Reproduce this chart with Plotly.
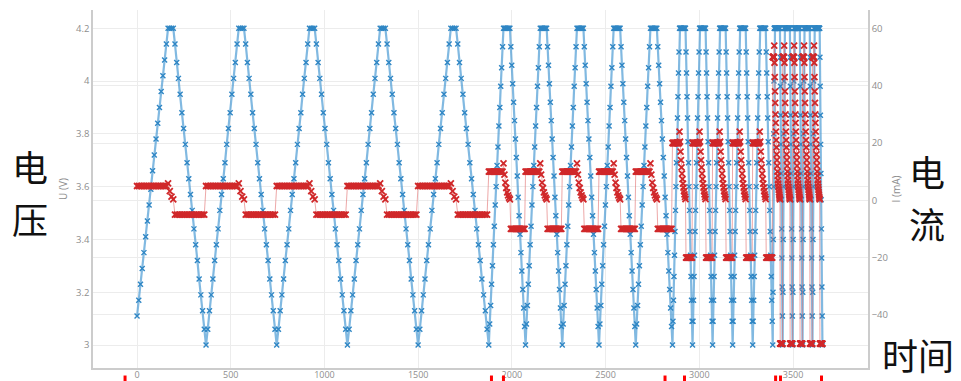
import numpy as np
import plotly.graph_objects as go

# Sampling interval (time units) of each constant-current step: 5, 10, 20, 50 mA
dt_stage = [9.2, 4.9, 2.675, 1.325]

# Cell voltage U (V), five charge/CV/discharge cycles per step
u_5mA = [
    3.11,3.17,3.23,3.29,3.35,3.41,3.47,3.53,3.59,3.66,3.72,3.78,3.84,3.90,3.96,4.02,4.08,4.14,4.20,4.20,4.20,4.20,4.14,4.07,4.01,3.95,3.88,3.82,3.76,3.69,3.63,3.57,3.51,3.44,3.38,3.32,3.25,3.19,3.13,3.06,
    3.00,3.06,3.13,3.19,3.25,3.32,3.38,3.44,3.51,3.57,3.63,3.69,3.76,3.82,3.88,3.95,4.01,4.07,4.14,4.20,4.20,4.20,4.20,4.14,4.07,4.01,3.95,3.88,3.82,3.76,3.69,3.63,3.57,3.51,3.44,3.38,3.32,3.25,3.19,3.13,3.06,
    3.00,3.06,3.13,3.19,3.25,3.32,3.38,3.44,3.51,3.57,3.63,3.69,3.76,3.82,3.88,3.95,4.01,4.07,4.14,4.20,4.20,4.20,4.20,4.14,4.07,4.01,3.95,3.88,3.82,3.76,3.69,3.63,3.57,3.51,3.44,3.38,3.32,3.25,3.19,3.13,3.06,
    3.00,3.06,3.13,3.19,3.25,3.32,3.38,3.44,3.51,3.57,3.63,3.69,3.76,3.82,3.88,3.95,4.01,4.07,4.14,4.20,4.20,4.20,4.20,4.14,4.07,4.01,3.95,3.88,3.82,3.76,3.69,3.63,3.57,3.51,3.44,3.38,3.32,3.25,3.19,3.13,3.06,
    3.00,3.06,3.13,3.19,3.25,3.32,3.38,3.44,3.51,3.57,3.63,3.69,3.76,3.82,3.88,3.95,4.01,4.07,4.14,4.20,4.20,4.20,4.20,4.14,4.07,4.01,3.95,3.88,3.82,3.76,3.69,3.63,3.57,3.51,3.44,3.38,3.32,3.25,3.19,3.13,3.06,
]
u_10mA = [
    3.00,3.08,3.15,3.23,3.30,3.38,3.45,3.53,3.60,3.68,3.75,3.83,3.90,3.98,4.05,4.13,4.20,4.20,4.20,4.20,4.20,4.20,4.20,4.20,4.13,4.06,3.99,3.92,3.85,3.78,3.71,3.64,3.56,3.49,3.42,3.35,3.28,3.21,3.14,3.07,
    3.00,3.08,3.15,3.23,3.30,3.38,3.45,3.53,3.60,3.68,3.75,3.83,3.90,3.98,4.05,4.13,4.20,4.20,4.20,4.20,4.20,4.20,4.20,4.20,4.13,4.06,3.99,3.92,3.85,3.78,3.71,3.64,3.56,3.49,3.42,3.35,3.28,3.21,3.14,3.07,
    3.00,3.08,3.15,3.23,3.30,3.38,3.45,3.53,3.60,3.68,3.75,3.83,3.90,3.98,4.05,4.13,4.20,4.20,4.20,4.20,4.20,4.20,4.20,4.20,4.13,4.06,3.99,3.92,3.85,3.78,3.71,3.64,3.56,3.49,3.42,3.35,3.28,3.21,3.14,3.07,
    3.00,3.08,3.15,3.23,3.30,3.38,3.45,3.53,3.60,3.68,3.75,3.83,3.90,3.98,4.05,4.13,4.20,4.20,4.20,4.20,4.20,4.20,4.20,4.20,4.13,4.06,3.99,3.92,3.85,3.78,3.71,3.64,3.56,3.49,3.42,3.35,3.28,3.21,3.14,3.07,
    3.00,3.08,3.15,3.23,3.30,3.38,3.45,3.53,3.60,3.68,3.75,3.83,3.90,3.98,4.05,4.13,4.20,4.20,4.20,4.20,4.20,4.20,4.20,4.20,4.13,4.06,3.99,3.92,3.85,3.78,3.71,3.64,3.56,3.49,3.42,3.35,3.28,3.21,3.14,3.07,
]
u_20mA = [
    3.00,3.09,3.17,3.26,3.34,3.43,3.51,3.60,3.69,3.77,3.86,3.94,4.03,4.11,4.20,4.20,4.20,4.20,4.20,4.20,4.20,4.20,4.20,4.20,4.20,4.20,4.20,4.11,4.03,3.94,3.86,3.77,3.69,3.60,3.51,3.43,3.34,3.26,3.17,3.09,
    3.00,3.09,3.17,3.26,3.34,3.43,3.51,3.60,3.69,3.77,3.86,3.94,4.03,4.11,4.20,4.20,4.20,4.20,4.20,4.20,4.20,4.20,4.20,4.20,4.20,4.20,4.20,4.11,4.03,3.94,3.86,3.77,3.69,3.60,3.51,3.43,3.34,3.26,3.17,3.09,
    3.00,3.09,3.17,3.26,3.34,3.43,3.51,3.60,3.69,3.77,3.86,3.94,4.03,4.11,4.20,4.20,4.20,4.20,4.20,4.20,4.20,4.20,4.20,4.20,4.20,4.20,4.20,4.11,4.03,3.94,3.86,3.77,3.69,3.60,3.51,3.43,3.34,3.26,3.17,3.09,
    3.00,3.09,3.17,3.26,3.34,3.43,3.51,3.60,3.69,3.77,3.86,3.94,4.03,4.11,4.20,4.20,4.20,4.20,4.20,4.20,4.20,4.20,4.20,4.20,4.20,4.20,4.20,4.11,4.03,3.94,3.86,3.77,3.69,3.60,3.51,3.43,3.34,3.26,3.17,3.09,
    3.00,3.09,3.17,3.26,3.34,3.43,3.51,3.60,3.69,3.77,3.86,3.94,4.03,4.11,4.20,4.20,4.20,4.20,4.20,4.20,4.20,4.20,4.20,4.20,4.20,4.20,4.20,4.11,4.03,3.94,3.86,3.77,3.69,3.60,3.51,3.43,3.34,3.26,3.17,3.09,
]
u_50mA = [
    3.00,3.20,3.40,3.60,3.80,4.00,4.20,4.20,4.20,4.20,4.20,4.20,4.20,4.20,4.20,4.20,4.20,4.20,4.20,4.20,4.20,4.20,4.20,4.20,4.20,4.20,4.20,4.20,4.20,4.20,4.09,3.98,3.87,3.76,3.65,3.55,3.44,3.33,3.22,3.11,
    3.00,3.20,3.40,3.60,3.80,4.00,4.20,4.20,4.20,4.20,4.20,4.20,4.20,4.20,4.20,4.20,4.20,4.20,4.20,4.20,4.20,4.20,4.20,4.20,4.20,4.20,4.20,4.20,4.20,4.20,4.09,3.98,3.87,3.76,3.65,3.55,3.44,3.33,3.22,3.11,
    3.00,3.20,3.40,3.60,3.80,4.00,4.20,4.20,4.20,4.20,4.20,4.20,4.20,4.20,4.20,4.20,4.20,4.20,4.20,4.20,4.20,4.20,4.20,4.20,4.20,4.20,4.20,4.20,4.20,4.20,4.09,3.98,3.87,3.76,3.65,3.55,3.44,3.33,3.22,3.11,
    3.00,3.20,3.40,3.60,3.80,4.00,4.20,4.20,4.20,4.20,4.20,4.20,4.20,4.20,4.20,4.20,4.20,4.20,4.20,4.20,4.20,4.20,4.20,4.20,4.20,4.20,4.20,4.20,4.20,4.20,4.09,3.98,3.87,3.76,3.65,3.55,3.44,3.33,3.22,3.11,
    3.00,3.20,3.40,3.60,3.80,4.00,4.20,4.20,4.20,4.20,4.20,4.20,4.20,4.20,4.20,4.20,4.20,4.20,4.20,4.20,4.20,4.20,4.20,4.20,4.20,4.20,4.20,4.20,4.20,4.20,4.09,3.98,3.87,3.76,3.65,3.55,3.44,3.33,3.22,3.11,
    3.00,
]

# Cell current I (mA) on the same samples
i_5mA = [
    5,5,5,5,5,5, 5,5,5,5,5,5, 5,5,5,5,5,5, 5.9,3.2,1.3,0.3, -5,-5,-5,-5,-5,-5, -5,-5,-5,-5,-5,-5, -5,-5,-5,-5,-5,-5,
    5,5,5,5,5,5, 5,5,5,5,5,5, 5,5,5,5,5,5, 5, 5.9,3.2,1.3,0.3, -5,-5,-5,-5,-5,-5, -5,-5,-5,-5,-5,-5, -5,-5,-5,-5,-5,-5,
    5,5,5,5,5,5, 5,5,5,5,5,5, 5,5,5,5,5,5, 5, 5.9,3.2,1.3,0.3, -5,-5,-5,-5,-5,-5, -5,-5,-5,-5,-5,-5, -5,-5,-5,-5,-5,-5,
    5,5,5,5,5,5, 5,5,5,5,5,5, 5,5,5,5,5,5, 5, 5.9,3.2,1.3,0.3, -5,-5,-5,-5,-5,-5, -5,-5,-5,-5,-5,-5, -5,-5,-5,-5,-5,-5,
    5,5,5,5,5,5, 5,5,5,5,5,5, 5,5,5,5,5,5, 5, 5.9,3.2,1.3,0.3, -5,-5,-5,-5,-5,-5, -5,-5,-5,-5,-5,-5, -5,-5,-5,-5,-5,-5,
]
i_10mA = [
    10,10,10,10,10,10,10,10, 10,10,10,10,10,10,10,10, 12.9,9.0,6.2,4.3,2.8,1.7,0.9,0.3, -10,-10,-10,-10,-10,-10,-10,-10, -10,-10,-10,-10,-10,-10,-10,-10,
    10,10,10,10,10,10,10,10, 10,10,10,10,10,10,10,10, 12.9,9.0,6.2,4.3,2.8,1.7,0.9,0.3, -10,-10,-10,-10,-10,-10,-10,-10, -10,-10,-10,-10,-10,-10,-10,-10,
    10,10,10,10,10,10,10,10, 10,10,10,10,10,10,10,10, 12.9,9.0,6.2,4.3,2.8,1.7,0.9,0.3, -10,-10,-10,-10,-10,-10,-10,-10, -10,-10,-10,-10,-10,-10,-10,-10,
    10,10,10,10,10,10,10,10, 10,10,10,10,10,10,10,10, 12.9,9.0,6.2,4.3,2.8,1.7,0.9,0.3, -10,-10,-10,-10,-10,-10,-10,-10, -10,-10,-10,-10,-10,-10,-10,-10,
    10,10,10,10,10,10,10,10, 10,10,10,10,10,10,10,10, 12.9,9.0,6.2,4.3,2.8,1.7,0.9,0.3, -10,-10,-10,-10,-10,-10,-10,-10, -10,-10,-10,-10,-10,-10,-10,-10,
]
i_20mA = [
    20,20,20,20,20,20,20, 20,20,20,20,20,20,20, 24,20.5,17,14,11.5,9.3,7.4,5.8,4.4,3.2,2.1,1.2,0.4, -20,-20,-20,-20,-20,-20,-20, -20,-20,-20,-20,-20,-20,
    20,20,20,20,20,20,20, 20,20,20,20,20,20,20, 24,20.5,17,14,11.5,9.3,7.4,5.8,4.4,3.2,2.1,1.2,0.4, -20,-20,-20,-20,-20,-20,-20, -20,-20,-20,-20,-20,-20,
    20,20,20,20,20,20,20, 20,20,20,20,20,20,20, 24,20.5,17,14,11.5,9.3,7.4,5.8,4.4,3.2,2.1,1.2,0.4, -20,-20,-20,-20,-20,-20,-20, -20,-20,-20,-20,-20,-20,
    20,20,20,20,20,20,20, 20,20,20,20,20,20,20, 24,20.5,17,14,11.5,9.3,7.4,5.8,4.4,3.2,2.1,1.2,0.4, -20,-20,-20,-20,-20,-20,-20, -20,-20,-20,-20,-20,-20,
    20,20,20,20,20,20,20, 20,20,20,20,20,20,20, 24,20.5,17,14,11.5,9.3,7.4,5.8,4.4,3.2,2.1,1.2,0.4, -20,-20,-20,-20,-20,-20,-20, -20,-20,-20,-20,-20,-20,
]
i_50mA = [
    50,50,50,50,50,50, 54,48,43,38,34,30,27,24,21,18.5,16,14,12,10,8.5,7,5.8,4.7,3.7,2.8,2.0,1.3,0.7,0.3, -50,-50,-50,-50,-50,-50,-50,-50,-50,-50,
    50,50,50,50,50,50, 54,48,43,38,34,30,27,24,21,18.5,16,14,12,10,8.5,7,5.8,4.7,3.7,2.8,2.0,1.3,0.7,0.3, -50,-50,-50,-50,-50,-50,-50,-50,-50,-50,
    50,50,50,50,50,50, 54,48,43,38,34,30,27,24,21,18.5,16,14,12,10,8.5,7,5.8,4.7,3.7,2.8,2.0,1.3,0.7,0.3, -50,-50,-50,-50,-50,-50,-50,-50,-50,-50,
    50,50,50,50,50,50, 54,48,43,38,34,30,27,24,21,18.5,16,14,12,10,8.5,7,5.8,4.7,3.7,2.8,2.0,1.3,0.7,0.3, -50,-50,-50,-50,-50,-50,-50,-50,-50,-50,
    50,50,50,50,50,50, 54,48,43,38,34,30,27,24,21,18.5,16,14,12,10,8.5,7,5.8,4.7,3.7,2.8,2.0,1.3,0.7,0.3, -50,-50,-50,-50,-50,-50,-50,-50,-50,-50,
    -50,
]

# Times at which each current step starts / ends (marked below the axis)
step_marks_t = [-64, 1891, 1955, 2817, 2921, 3407, 3433, 3652]

# Axis ticks
x_ticks = [0, 500, 1000, 1500, 2000, 2500, 3000, 3500]
u_ticks = [3.0, 3.2, 3.4, 3.6, 3.8, 4.0, 4.2]
u_tick_text = ["3", "3.2", "3.4", "3.6", "3.8", "4", "4.2"]
i_ticks = [-40, -20, 0, 20, 40, 60]

u_steps = [u_5mA, u_10mA, u_20mA, u_50mA]
i_steps = [i_5mA, i_10mA, i_20mA, i_50mA]
for u, i in zip(u_steps, i_steps):
    assert len(u) == len(i), (len(u), len(i))

# Build the time base from the sampling interval of each step
t_parts = []
t0 = 0.0
for dt, u in zip(dt_stage, u_steps):
    t_parts.append(t0 + dt * np.arange(len(u)))
    t0 += dt * len(u)
time = np.concatenate(t_parts)
voltage = np.concatenate([np.asarray(u, float) for u in u_steps])
current = np.concatenate([np.asarray(i, float) for i in i_steps])

fig = go.Figure()
fig.add_trace(go.Scatter(
    x=time, y=voltage, mode="lines+markers", name="U", yaxis="y",
    line=dict(color="rgba(75,155,212,0.7)", width=2.2),
    marker=dict(symbol="x-thin", size=5, line=dict(color="#2f86c4", width=1.4)),
))
fig.add_trace(go.Scatter(
    x=time, y=current, mode="lines+markers", name="I", yaxis="y2",
    line=dict(color="rgba(225,110,110,0.6)", width=1),
    marker=dict(symbol="x-thin", size=6, line=dict(color="#d0282a", width=1.8)),
))

grid = "#ececec"
axis_line = "#cccccc"
tick_font = dict(family="Open Sans, Arial, sans-serif", size=9.5, color="#8e8e8e")
x_tick_font = dict(family="Open Sans, Arial, sans-serif", size=9, color="#8e8e8e")
title_font = dict(family="Open Sans, Arial, sans-serif", size=10, color="#8e8e8e")

shapes = [
    dict(type="rect", xref="x", yref="paper", x0=t - 8, x1=t + 8, y0=-0.06, y1=-0.021,
         fillcolor="#ff0000", line=dict(width=0), layer="above")
    for t in step_marks_t
]

# Side labels: voltage on the left, current on the right, time at the lower right
cjk = dict(family="Noto Sans CJK SC", size=36, color="#111111")
annotations = [
    dict(text="电", x=-0.0813, y=0.564),
    dict(text="压", x=-0.0813, y=0.418),
    dict(text="电", x=1.0761, y=0.550),
    dict(text="流", x=1.0761, y=0.404),
    dict(text="时间", x=1.0645, y=0.039),
]
for a in annotations:
    a.update(xref="paper", yref="paper", xanchor="center", yanchor="middle",
             showarrow=False, font=cjk)

fig.update_layout(
    width=961, height=381,
    margin=dict(l=93, r=93, t=10, b=13, autoexpand=False),
    paper_bgcolor="white", plot_bgcolor="white",
    showlegend=False,
    font=dict(family="Open Sans, Arial, sans-serif", size=10, color="#8e8e8e"),
    xaxis=dict(
        range=[-235, 3900], tickvals=x_ticks, showgrid=True, gridcolor=grid, gridwidth=1,
        zeroline=False, showline=True, linecolor=axis_line, linewidth=1.5,
        ticks="", tickfont=x_tick_font, ticklabelstandoff=-3, automargin=False,
    ),
    yaxis=dict(
        range=[2.913, 4.269], tickvals=u_ticks, ticktext=u_tick_text,
        showgrid=True, gridcolor=grid, zeroline=False,
        showline=True, linecolor=axis_line, linewidth=1.5, ticks="", tickfont=tick_font,
        title=dict(text="U (V)", font=title_font, standoff=6),
        automargin=False,
    ),
    yaxis2=dict(
        overlaying="y", side="right", range=[-58.5, 66.4], tickvals=i_ticks,
        showgrid=True, gridcolor=grid, zeroline=False,
        showline=True, linecolor=axis_line, linewidth=1.5, ticks="", tickfont=tick_font,
        title=dict(text="I (mA)", font=title_font, standoff=6),
        automargin=False,
    ),
    shapes=shapes,
    annotations=annotations,
)

fig.write_html("out.html")
